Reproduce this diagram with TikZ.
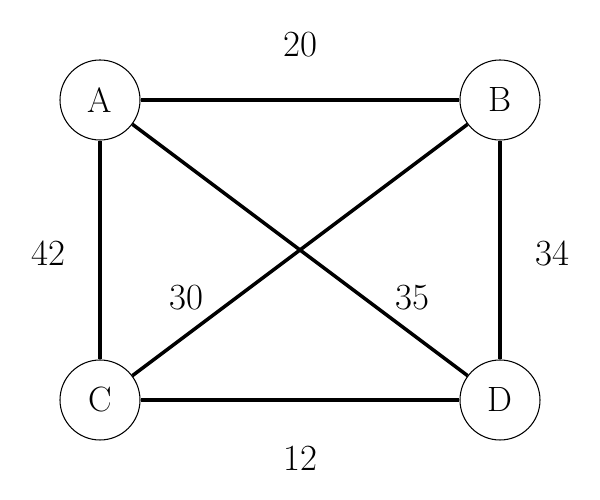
\documentclass[tikz,border=0pt]{standalone}
\usepackage{tikz}
\begin{document}
\begin{tikzpicture}[auto, line width=2pt, main node/.style={circle,draw,line width=0.6pt,fill=white,minimum size=1.6cm,inner sep=0pt,font=\fontsize{20}{24}\selectfont},weight/.style={font=\fontsize{21}{25}\selectfont}]%
\useasboundingbox (0,0) rectangle (12,10);
\begin{scope}
\node[main node] (vA) at (2,8) {A};
\node[main node] (vB) at (10,8) {B};
\node[main node] (vC) at (2,2) {C};
\node[main node] (vD) at (10,2) {D};
\end{scope}
\begin{scope}[every node/.style={weight}]
\node (wAB) at (6,9.1) {20};
\node (wAC) at (0.96,4.94) {42};
\node (wBD) at (11.04,4.94) {34};
\node (wCD) at (6,0.84) {12};
\node (wBC) at (3.72,4.04) {30};
\node (wAD) at (8.24,4.04) {35};
\end{scope}
\begin{scope}[every edge/.style={draw=black,line width=2pt}]
\draw  (vA) edge (vB);
\draw  (vA) edge (vC);
\draw  (vA) edge (vD);
\draw  (vB) edge (vC);
\draw  (vB) edge (vD);
\draw  (vC) edge (vD);
\end{scope}
\end{tikzpicture}
\end{document}
